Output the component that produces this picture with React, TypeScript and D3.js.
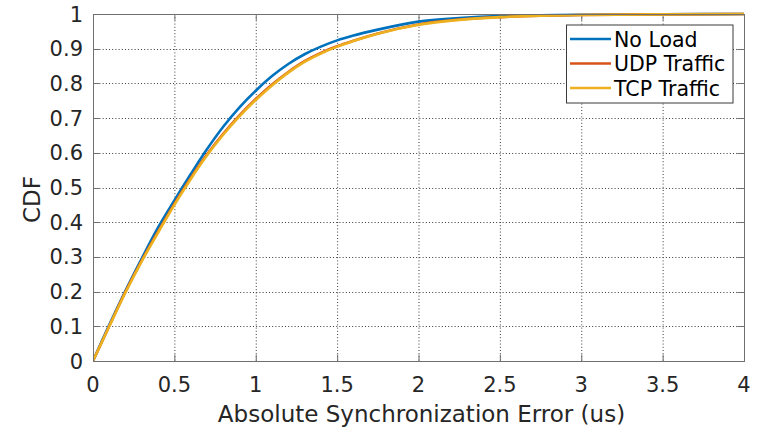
import React from "react";
import * as d3 from "d3";

const xs = [0, 0.1, 0.2, 0.3, 0.4, 0.5, 0.6, 0.7, 0.8, 0.9, 1.0, 1.1, 1.2, 1.3, 1.4, 1.5, 1.6, 1.75, 2.0, 2.25, 2.5, 2.75, 3.0, 3.5, 4.0];
const noLoad = [0, 0.104, 0.203, 0.296, 0.385, 0.463, 0.538, 0.61, 0.675, 0.731, 0.779, 0.821, 0.856, 0.884, 0.906, 0.924, 0.938, 0.955, 0.978, 0.988, 0.994, 0.996, 0.998, 0.999, 1.0];
const udp = [0, 0.101, 0.2, 0.29, 0.373, 0.453, 0.527, 0.595, 0.655, 0.708, 0.755, 0.797, 0.833, 0.864, 0.888, 0.907, 0.923, 0.944, 0.97, 0.984, 0.991, 0.995, 0.997, 0.999, 1.0];
const tcp = [0, 0.1, 0.198, 0.288, 0.37, 0.45, 0.524, 0.592, 0.652, 0.705, 0.752, 0.794, 0.831, 0.862, 0.886, 0.906, 0.922, 0.943, 0.969, 0.983, 0.991, 0.995, 0.997, 0.999, 1.0];

const seriesNames = ["No Load", "UDP Traffic", "TCP Traffic"];
const seriesValues = [noLoad, udp, tcp];
const seriesColors = ["#0072BD", "#D95319", "#EDB120"];

const xTicks = [0, 0.5, 1, 1.5, 2, 2.5, 3, 3.5, 4];
const yTicks = [0, 0.1, 0.2, 0.3, 0.4, 0.5, 0.6, 0.7, 0.8, 0.9, 1];
const xLabel = "Absolute Synchronization Error (us)";
const yLabel = "CDF";

const W = 760, H = 428;
const L = 93, R = 744, T = 14, B = 361;
const FONT = "'DejaVu Sans', sans-serif";
const TXT = "#262626";
const AX = "#707070";

export default function App() {
  const x = d3.scaleLinear().domain([0, 4]).range([L, R]);
  const y = d3.scaleLinear().domain([0, 1]).range([B, T]);
  const line = d3
    .line<number>()
    .x((_, i) => x(xs[i]))
    .y((d) => y(d))
    .curve(d3.curveMonotoneX);
  const fmt = (v: number) => String(v);
  const tickLen = 6.5;
  const legX0 = 566.5, legY0 = 25, legX1 = 733, legY1 = 103;
  const rowY = [39, 63.5, 88];
  return (
    <svg
      width={W}
      height={H}
      style={{ position: "absolute", left: 0, top: 0, display: "block", background: "#fff" }}
      fontFamily={FONT}
    >
      <rect x={0} y={0} width={W} height={H} fill="#fff" />
      <defs>
        <clipPath id="plotclip">
          <rect x={L} y={T - 2} width={R - L + 2} height={B - T + 4} />
        </clipPath>
      </defs>
      <g stroke="#3a3a3a" strokeWidth={1} strokeDasharray="1,2.2" fill="none">
        {xTicks.slice(1, -1).map((t) => (
          <line key={"gx" + t} x1={x(t) + 0.5} x2={x(t) + 0.5} y1={T} y2={B} />
        ))}
        {yTicks.slice(1, -1).map((t) => (
          <line key={"gy" + t} x1={L} x2={R} y1={Math.round(y(t)) + 0.5} y2={Math.round(y(t)) + 0.5} />
        ))}
      </g>
      <g stroke={AX} strokeWidth={1}>
        {xTicks.map((t) => (
          <g key={"tx" + t}>
            <line x1={x(t) + 0.5} x2={x(t) + 0.5} y1={B} y2={B - tickLen} />
            <line x1={x(t) + 0.5} x2={x(t) + 0.5} y1={T} y2={T + tickLen} />
          </g>
        ))}
        {yTicks.map((t) => (
          <g key={"ty" + t}>
            <line x1={L} x2={L + tickLen} y1={Math.round(y(t)) + 0.5} y2={Math.round(y(t)) + 0.5} />
            <line x1={R} x2={R - tickLen} y1={Math.round(y(t)) + 0.5} y2={Math.round(y(t)) + 0.5} />
          </g>
        ))}
      </g>
      <g clipPath="url(#plotclip)" fill="none" strokeWidth={2.6} strokeLinejoin="round">
        {seriesValues.map((vals, i) => (
          <path key={seriesNames[i]} d={line(vals) || ""} stroke={seriesColors[i]} />
        ))}
      </g>
      <rect x={L + 0.5} y={T + 0.5} width={R - L} height={B - T} fill="none" stroke={AX} strokeWidth={1} />
      <g fill={TXT} fontSize={21}>
        {xTicks.map((t) => (
          <text key={"lx" + t} x={x(t)} y={392} textAnchor="middle">
            {fmt(t)}
          </text>
        ))}
        {yTicks.map((t) => (
          <text key={"ly" + t} x={83} y={y(t) + 7.5} textAnchor="end">
            {fmt(t)}
          </text>
        ))}
      </g>
      <text x={(L + R) / 2 + 3} y={421.5} textAnchor="middle" fontSize={23} fill={TXT}>
        {xLabel}
      </text>
      <text
        transform={`translate(40,${(T + B) / 2 + 12}) rotate(-90)`}
        textAnchor="middle"
        fontSize={23}
        fill={TXT}
      >
        {yLabel}
      </text>
      <rect x={legX0} y={legY0} width={legX1 - legX0} height={legY1 - legY0} fill="#fff" stroke="#3a3a3a" strokeWidth={1} />
      {seriesNames.map((n, i) => (
        <g key={"leg" + n}>
          <line x1={570} x2={611} y1={rowY[i]} y2={rowY[i]} stroke={seriesColors[i]} strokeWidth={2.6} />
          <text x={614} y={rowY[i] + 7.5} fontSize={20.5} fill="#000">
            {n}
          </text>
        </g>
      ))}
    </svg>
  );
}
